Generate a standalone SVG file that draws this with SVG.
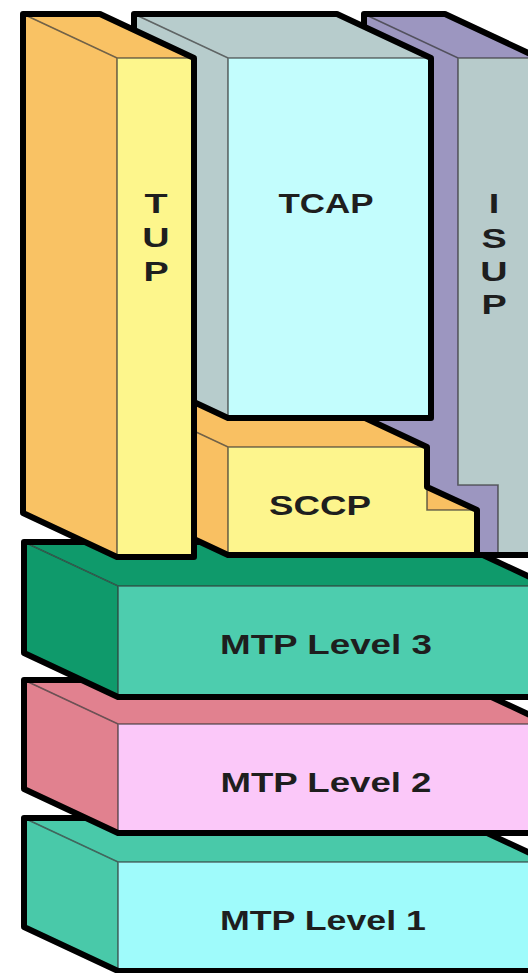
<svg xmlns="http://www.w3.org/2000/svg" width="528" height="973" viewBox="0 0 528 973">
<style>
.out{fill:none;stroke:#000;stroke-width:6;stroke-linejoin:round}
.edge{fill:none;stroke:#333;stroke-width:1.6;stroke-opacity:.7}
.lbl{font-family:"Liberation Sans",Arial,Helvetica,sans-serif;font-weight:bold;font-size:27px;fill:#1e1e1e;text-anchor:middle}
</style>
<rect width="528" height="973" fill="#fff"/>
<g id="connectors"/>

<g id="mtp1">
  <polygon points="24,818 455,818 549,862 118,862" fill="#49c9a9"/>
  <polygon points="24,818 118,862 118,971 24,927" fill="#49c9a9"/>
  <rect x="118" y="862" width="431" height="109" fill="#9ffbfb"/>
  <path class="edge" d="M24,818 L118,862 L549,862 M118,862 L118,971"/>
  <polygon class="out" points="24,818 455,818 549,862 549,971 118,971 24,927"/>
  <text class="lbl" x="323" y="930" textLength="206" lengthAdjust="spacingAndGlyphs">MTP Level 1</text>
</g>

<g id="mtp2">
  <polygon points="24,680 455,680 549,724 118,724" fill="#e1818f"/>
  <polygon points="24,680 118,724 118,833 24,789" fill="#e1818f"/>
  <rect x="118" y="724" width="431" height="109" fill="#fbc8f9"/>
  <path class="edge" d="M24,680 L118,724 L549,724 M118,724 L118,833"/>
  <polygon class="out" points="24,680 455,680 549,724 549,833 118,833 24,789"/>
  <text class="lbl" x="326" y="792" textLength="211" lengthAdjust="spacingAndGlyphs">MTP Level 2</text>
</g>

<g id="mtp3">
  <polygon points="24,542 455,542 549,586 118,586" fill="#0f9a6b"/>
  <polygon points="24,542 118,586 118,697 24,653" fill="#0f9a6b"/>
  <rect x="118" y="586" width="431" height="111" fill="#4dcdae"/>
  <path class="edge" d="M24,542 L118,586 L549,586 M118,586 L118,697"/>
  <polygon class="out" points="24,542 455,542 549,586 549,697 118,697 24,653"/>
  <text class="lbl" x="326" y="654" textLength="212" lengthAdjust="spacingAndGlyphs">MTP Level 3</text>
</g>

<g id="isup">
  <polygon points="364,14 445,14 539,58 539,555 470,555 364,505" fill="#9c96c0"/>
  <polygon points="458,58 539,58 539,555 498,555 498,485 458,485" fill="#b7cbcb"/>
  <path class="edge" d="M364,14 L458,58 L539,58 M458,58 L458,485 L498,485 L498,555"/>
  <polygon class="out" points="364,14 445,14 539,58 539,555 470,555 364,505"/>
  <g transform="translate(494,0) scale(1.4,1)">
    <text class="lbl" x="0" y="213">I</text>
    <text class="lbl" x="0" y="248">S</text>
    <text class="lbl" x="0" y="281">U</text>
    <text class="lbl" x="0" y="314">P</text>
  </g>
</g>

<g id="sccp">
  <polygon points="134,403 333,403 427,447 228,447" fill="#f9c062"/>
  <polygon points="134,403 228,447 228,555 134,511" fill="#f9c062"/>
  <polygon points="427,487 477,510 427,510" fill="#f9c062"/>
  <polygon points="228,447 427,447 427,510 477,510 477,555 228,555" fill="#fdf58d"/>
  <path class="edge" d="M134,403 L228,447 L427,447 M228,447 L228,555 M427,487 L427,510 L477,510"/>
  <polygon class="out" points="134,403 333,403 427,447 427,487 477,510 477,555 228,555 134,511"/>
  <text class="lbl" x="320" y="515" textLength="102" lengthAdjust="spacingAndGlyphs">SCCP</text>
</g>

<g id="tcap">
  <polygon points="134,14 337,14 431,58 228,58" fill="#b7cccc"/>
  <polygon points="134,14 228,58 228,418 134,374" fill="#b7cccc"/>
  <rect x="228" y="58" width="203" height="360" fill="#c3fdfd"/>
  <path class="edge" d="M134,14 L228,58 L431,58 M228,58 L228,418"/>
  <polygon class="out" points="134,14 337,14 431,58 431,418 228,418 134,374"/>
  <text class="lbl" x="326" y="213" textLength="95" lengthAdjust="spacingAndGlyphs">TCAP</text>
</g>

<g id="tup">
  <polygon points="23,14 100,14 194,58 117,58" fill="#f9c264"/>
  <polygon points="23,14 117,58 117,557 23,513" fill="#f9c264"/>
  <rect x="117" y="58" width="77" height="499" fill="#fdf68c"/>
  <path class="edge" d="M23,14 L117,58 L194,58 M117,58 L117,557"/>
  <polygon class="out" points="23,14 100,14 194,58 194,557 117,557 23,513"/>
  <g transform="translate(156,0) scale(1.4,1)">
    <text class="lbl" x="0" y="213">T</text>
    <text class="lbl" x="0" y="247">U</text>
    <text class="lbl" x="0" y="281">P</text>
  </g>
</g>
</svg>
